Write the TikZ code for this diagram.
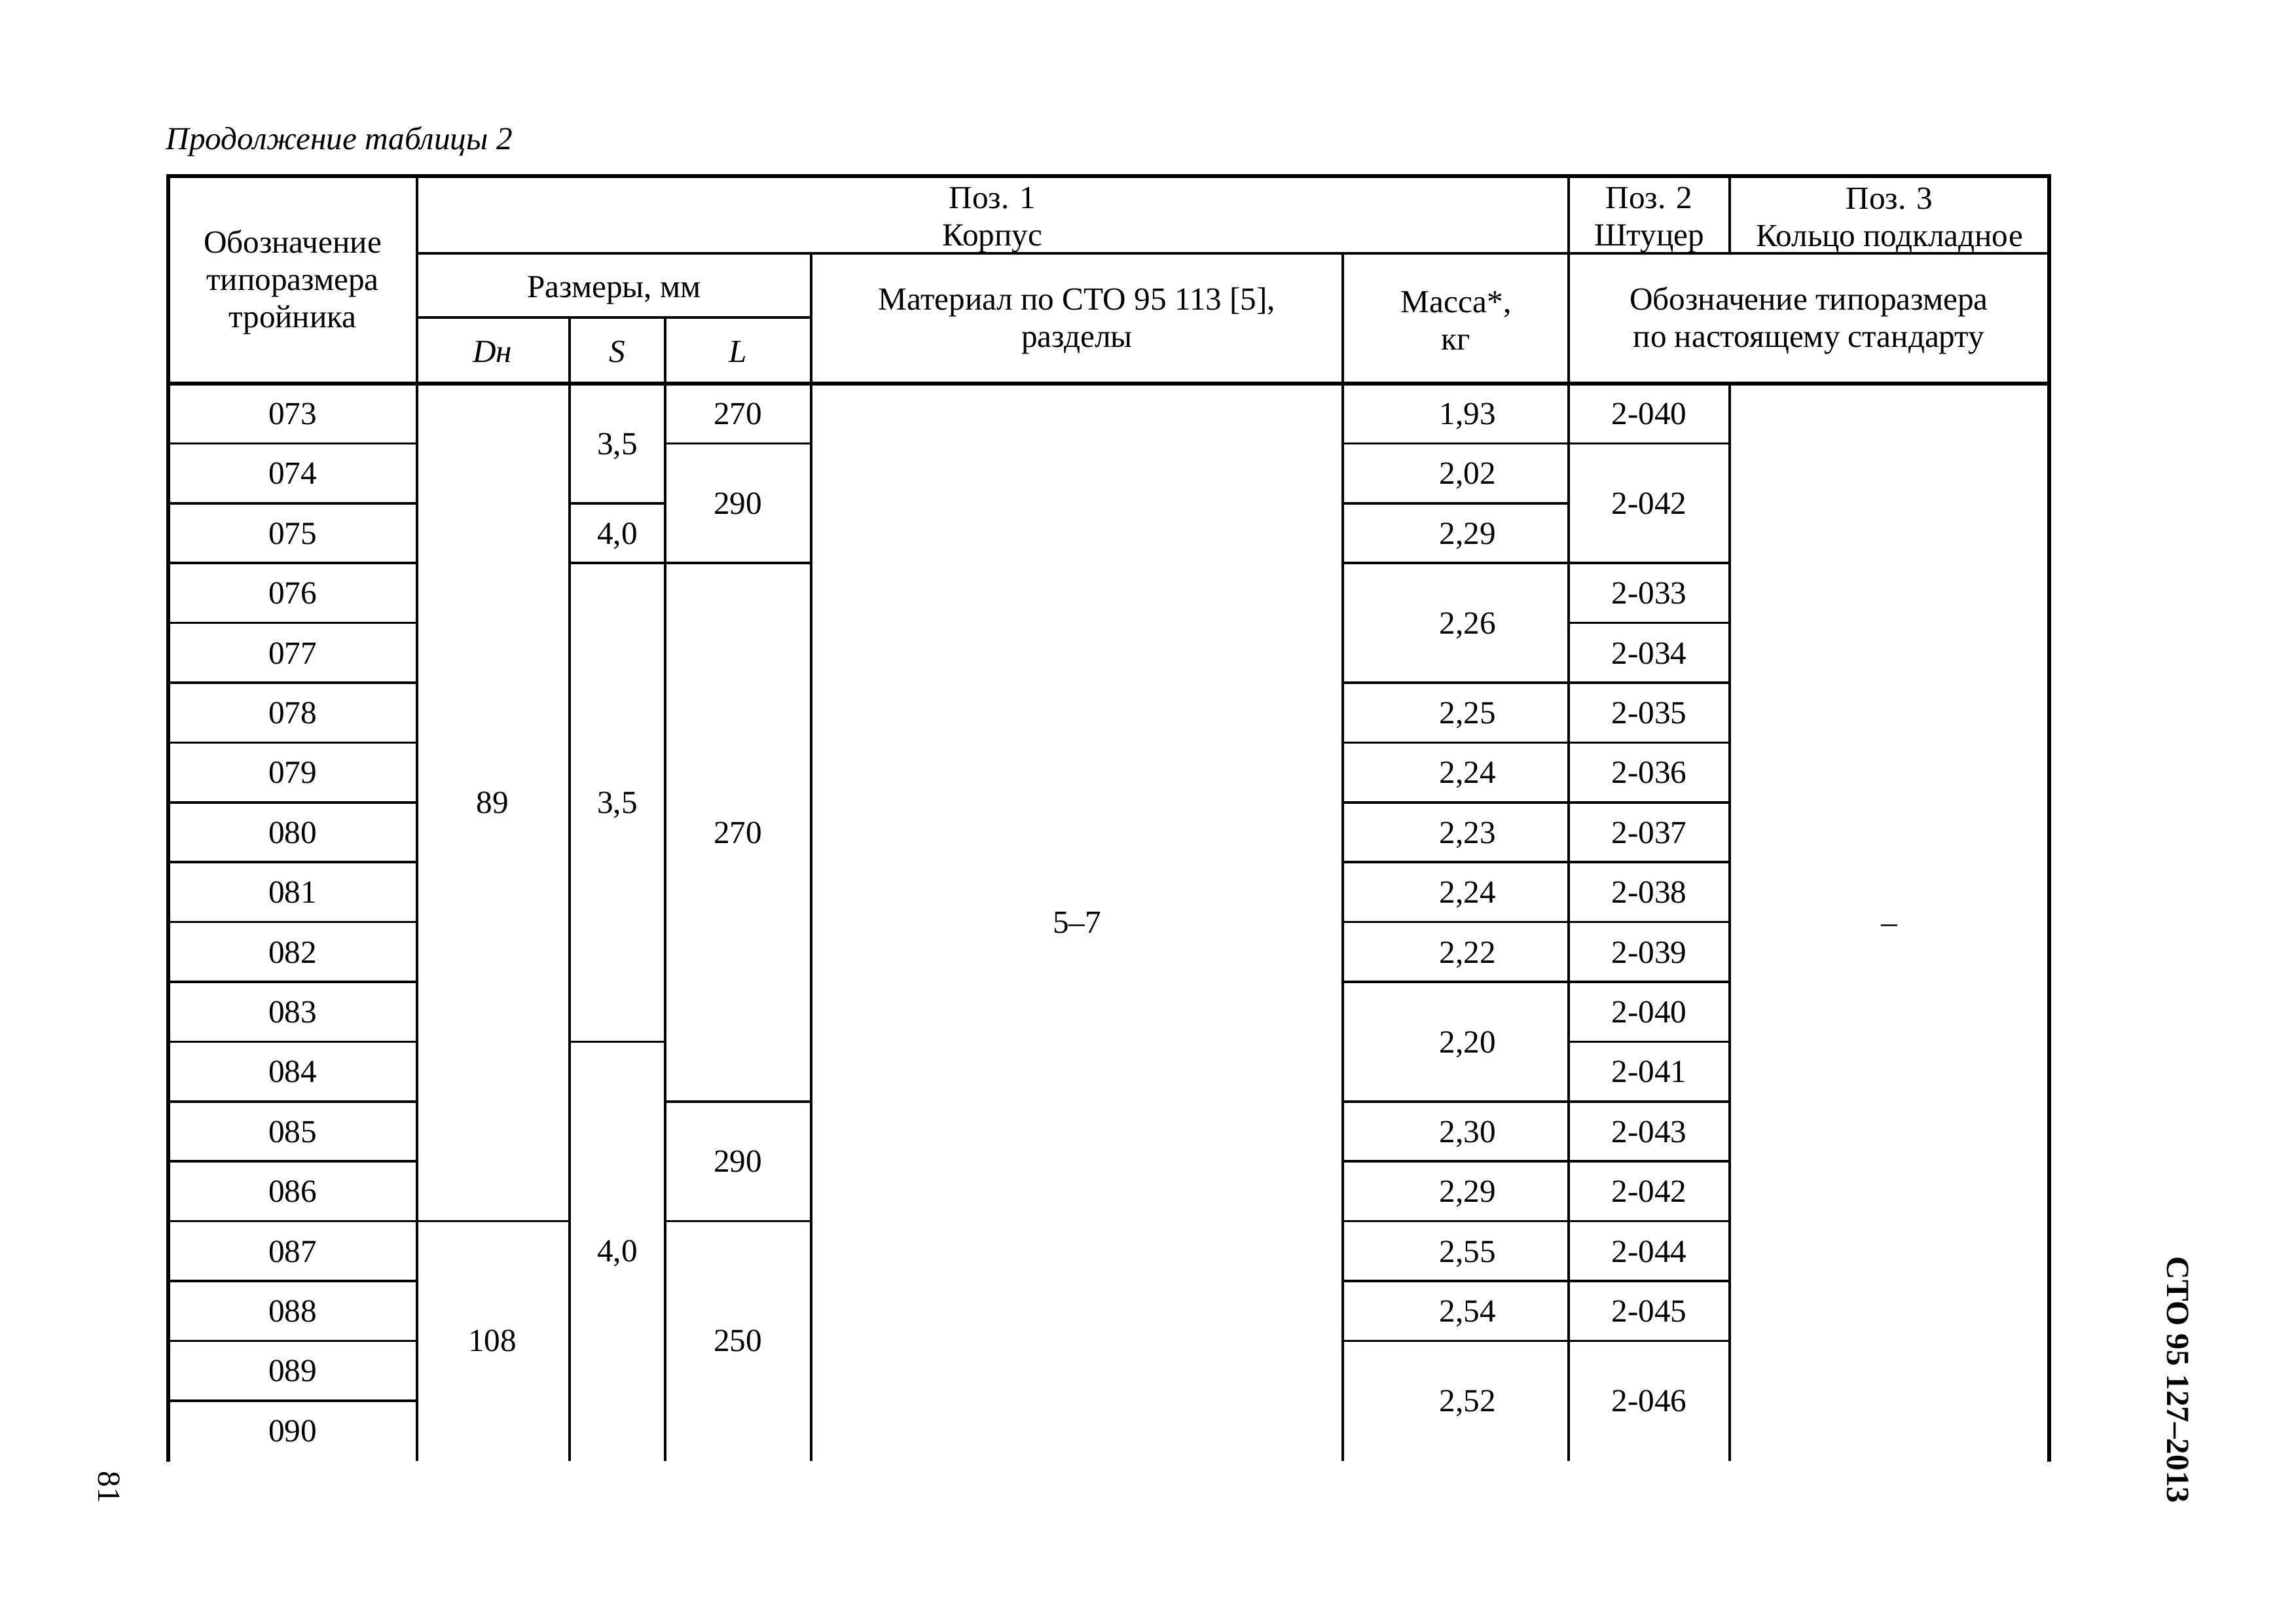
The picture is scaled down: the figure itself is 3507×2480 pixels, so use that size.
\documentclass[tikz,border=0pt]{standalone}
\usepackage{fontspec}
\setmainfont{Liberation Serif}
\begin{document}
\begin{tikzpicture}[x=0.1mm,y=-0.1mm,
  cell/.style={font=\fontsize{14}{16.2}\selectfont, inner sep=0pt, text height=9.5pt, text depth=0pt, anchor=center},
  head/.style={font=\fontsize{14}{16.2}\selectfont, inner sep=0pt, align=center, anchor=center},
  outerline/.style={line width=1.45pt, line cap=rect},
  headline/.style={line width=1.85pt, line cap=rect},
  colline/.style={line width=1.15pt, line cap=rect},
  rowline/.style={line width=1.05pt}
]
\useasboundingbox (0,0) rectangle (3507,2480);

% ---------- title and margins ----------
\node[font=\fontsize{14}{16.2}\selectfont\itshape, anchor=base west, inner sep=0pt] (title) at (253,228) {Продолжение таблицы 2};
\node[font=\fontsize{14}{16.2}\selectfont\bfseries, rotate=-90, inner sep=0pt, anchor=center] (stamp) at (3327,2108) {СТО 95 127–2013};
\node[font=\fontsize{14}{16.2}\selectfont, rotate=-90, inner sep=0pt, anchor=center] (page) at (167,2272) {81};

% ---------- frame lines ----------
\draw[outerline] (257,269) -- (3130,269);
\draw[outerline] (257,269) -- (257,2230);
\draw[outerline] (3130,269) -- (3130,2230);
\draw[headline] (257,586) -- (3130,586);
\draw[colline] (637,387) -- (3130,387);
\draw[colline] (637,485) -- (1239,485);

\draw[colline] (637,269) -- (637,2230);
\draw[colline] (870,485) -- (870,2230);
\draw[colline] (1016,485) -- (1016,2230);
\draw[colline] (1239,387) -- (1239,2230);
\draw[colline] (2051,387) -- (2051,2230);
\draw[colline] (2396,269) -- (2396,2230);
\draw[colline] (2642,269) -- (2642,387);
\draw[colline] (2642,586) -- (2642,2230);

% ---------- row lines ----------
\foreach \k in {1,...,17} \draw[rowline] (257,{586+91.4*\k}) -- (637,{586+91.4*\k});
\foreach \k in {14} \draw[rowline] (637,{586+91.4*\k}) -- (870,{586+91.4*\k});
\foreach \k in {2,3,11} \draw[rowline] (870,{586+91.4*\k}) -- (1016,{586+91.4*\k});
\foreach \k in {1,3,12,14} \draw[rowline] (1016,{586+91.4*\k}) -- (1239,{586+91.4*\k});
\foreach \k in {1,2,3,5,6,7,8,9,10,12,13,14,15,16} \draw[rowline] (2051,{586+91.4*\k}) -- (2396,{586+91.4*\k});
\foreach \k in {1,3,4,5,6,7,8,9,10,11,12,13,14,15,16} \draw[rowline] (2396,{586+91.4*\k}) -- (2642,{586+91.4*\k});

% ---------- header texts ----------
\node[head] (h1) at (447,431) {Обозначение\\типоразмера\\тройника};
\node[head] (h2) at (1516,336) {Поз. 1\\Корпус};
\node[head] (h3) at (2519,336) {Поз. 2\\Штуцер};
\node[head] (h4) at (2886,336) {Поз. 3\\Кольцо подкладное};
\node[head] (h5) at (938,444) {Размеры, мм};
\node[head] (h6) at (1645,490) {Материал по СТО 95 113 [5],\\разделы};
\node[head] (h7) at (2224,490) {Масса*,\\кг};
\node[head] (h8) at (2763,490) {Обозначение типоразмера\\по настоящему стандарту};
\node[cell, font=\fontsize{14}{16.2}\selectfont\itshape] (hD) at (752,537) {Dн};
\node[cell, font=\fontsize{14}{16.2}\selectfont\itshape] (hS) at (943,537) {S};
\node[cell, font=\fontsize{14}{16.2}\selectfont\itshape] (hL) at (1127,537) {L};

% ---------- body ----------
\foreach \c [count=\i from 0] in {073,074,075,076,077,078,079,080,081,082,083,084,085,086,087,088,089,090}
  \node[cell] (code\i) at (447,{586+91.4*(\i+0.5)}) {\c};

\node[cell] (dn1) at (752,1225.8) {89};
\node[cell] (dn2) at (752,2047.8) {108};

\node[cell] (s1) at (943,677.4) {3,5};
\node[cell] (s2) at (943,814.5) {4,0};
\node[cell] (s3) at (943,1225.8) {3,5};
\node[cell] (s4) at (943,1910.7) {4,0};

\node[cell] (l1) at (1127,631.7) {270};
\node[cell] (l2) at (1127,768.8) {290};
\node[cell] (l3) at (1127,1271.5) {270};
\node[cell] (l4) at (1127,1774.2) {290};
\node[cell] (l5) at (1127,2047.8) {250};

\node[cell] (mat) at (1645,1409) {5–7};
\node[cell] (ring) at (2886,1409) {–};

\foreach \v/\p [count=\i] in {{1,93}/0.5,{2,02}/1.5,{2,29}/2.5,{2,26}/4,{2,25}/5.5,{2,24}/6.5,{2,23}/7.5,{2,24}/8.5,{2,22}/9.5,{2,20}/11,{2,30}/12.5,{2,29}/13.5,{2,55}/14.5,{2,54}/15.5,{2,52}/17}
  \node[cell] (m\i) at (2242,{586+91.4*\p}) {\v};

\foreach \v/\p [count=\i] in {2-040/0.5,2-042/2,2-033/3.5,2-034/4.5,2-035/5.5,2-036/6.5,2-037/7.5,2-038/8.5,2-039/9.5,2-040/10.5,2-041/11.5,2-043/12.5,2-042/13.5,2-044/14.5,2-045/15.5,2-046/17}
  \node[cell] (f\i) at (2519,{586+91.4*\p}) {\v};

\end{tikzpicture}
\end{document}
